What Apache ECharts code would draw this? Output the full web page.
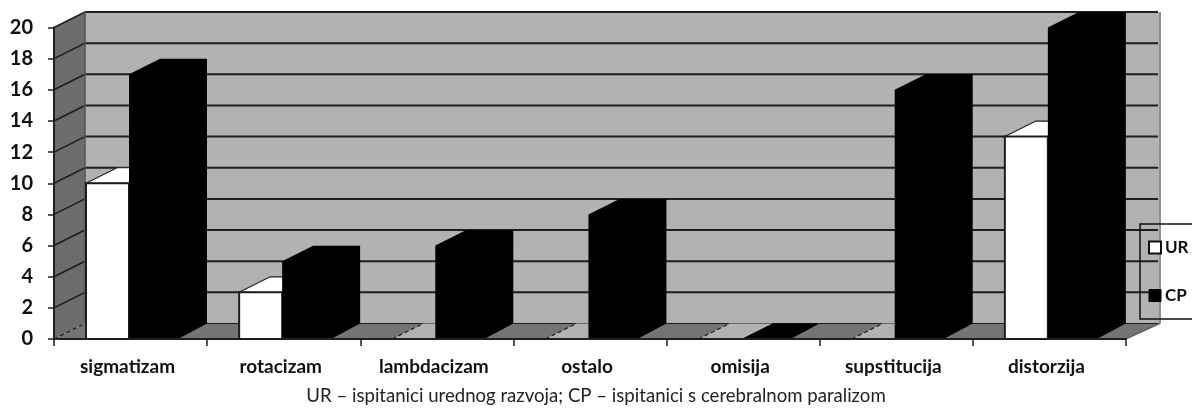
<!DOCTYPE html>
<html><head><meta charset="utf-8">
<style>html,body{margin:0;padding:0;background:#fff}#c{width:1192px;height:416px}</style>
<script src="https://cdn.jsdelivr.net/npm/echarts@6/dist/echarts.min.js"></script>
</head><body><div id="c"></div>
<script>
const categories = ['sigmatizam','rotacizam','lambdacizam','ostalo','omisija','supstitucija','distorzija'];
const urValues = [10,3,0,0,0,0,13];
const cpValues = [17,5,6,8,0,16,20];
const yTicks = [0,2,4,6,8,10,12,14,16,18,20];
const caption = 'UR – ispitanici urednog razvoja; CP – ispitanici s cerebralnom paralizom';

const DX = 31, DY = -15.5;
const FONT = 'Lato';
const DARK = '#1e1e1e';

function poly(pts, fill, stroke, lw, dash) {
  return {type:'polygon', shape:{points:pts}, style:{fill:fill||'none', stroke:stroke||'none', lineWidth:lw||0, lineDash:dash||null}};
}
function line(a, b, stroke, lw, dash) {
  return {type:'line', shape:{x1:a[0],y1:a[1],x2:b[0],y2:b[1]}, style:{stroke, lineWidth:lw, lineDash:dash||null}};
}
function renderWalls(params, api) {
  const band = api.size([1,0])[0];
  const n = categories.length;
  const left = api.coord([0,0])[0] - band/2;
  const right = left + band*n;
  const y0 = api.coord([0,0])[1];
  const yT = api.coord([0,yTicks[yTicks.length-1]])[1];
  const kids = [];
  kids.push(poly([[left+DX,yT+DY],[right+DX+3,yT+DY],[right+DX+3,y0+DY],[left+DX,y0+DY]],'#b2b2b2'));
  kids.push(line([right+DX+3,yT+DY],[right+DX+3,y0+DY],'#8e8e8e',2));
  kids.push(poly([[left,yT],[left+DX,yT+DY],[left+DX,y0+DY],[left,y0]],'#6c6c6c'));
  kids.push(poly([[left,y0],[left+DX,y0+DY],[right+DX+3,y0+DY],[right,y0]],'#747474'));
  yTicks.forEach(v => {
    const y = api.coord([0,v])[1];
    const dash = v === 0 ? [4,3] : null;
    kids.push(line([left,y],[left+DX,y+DY],DARK,v===0?1.2:1.6,dash));
    kids.push(line([left+DX,y+DY],[right+DX+1,y+DY],DARK,v===0?1:2));
  });
  kids.push(line([left+DX,yT+DY],[left+DX,y0+DY],'#555',1.5));
  kids.push(line([right,y0],[right+DX+3,y0+DY],'#555',1.2));
  return {type:'group', children:kids};
}
function renderUR(params, api) {
  const band = api.size([1,0])[0];
  const c = api.coord([api.value(0),api.value(1)]);
  const s = c[0]-band/2, y0 = api.coord([api.value(0),0])[1], y = c[1];
  const a = s+32, b = s+75;
  if (api.value(1) === 0) {
    return {type:'group', children:[
      poly([[a,y0],[a+DX,y0+DY],[b+DX,y0+DY],[b,y0]],'#b2b2b2'),
      line([a,y0],[a+DX,y0+DY],DARK,1.2,[4,3])
    ]};
  }
  return {type:'group', children:[
    poly([[a,y],[a+DX,y+DY],[b+DX,y+DY],[b,y]],'#ffffff',DARK,1.2),
    poly([[a,y],[b,y],[b,y0],[a,y0]],'#ffffff',DARK,2)
  ]};
}
function renderCP(params, api) {
  const band = api.size([1,0])[0];
  const c = api.coord([api.value(0),api.value(1)]);
  const s = c[0]-band/2, y0 = api.coord([api.value(0),0])[1], y = c[1];
  const a = s+75, b = s+124;
  return {type:'group', children:[
    poly([[a,y0],[a,y],[a+DX,y+DY],[b+DX-2,y+DY],[b+DX-2,y0+DY],[b,y0]],'#000000')
  ]};
}
const chart = echarts.init(document.getElementById('c'), null, {renderer:'canvas'});
chart.setOption({
  animation:false,
  backgroundColor:'#ffffff',
  textStyle:{fontFamily:FONT},
  title:{text:caption,left:'center',top:386,itemGap:0,padding:0,
    textStyle:{fontFamily:FONT,fontWeight:'normal',fontSize:18.6,color:'#222'}},
  grid:{left:54,right:66,top:27.5,bottom:77,containLabel:false},
  legend:{show:true,orient:'vertical',left:1140,top:224,
    padding:[15,70,15,8],itemGap:31,itemWidth:12,itemHeight:12,
    borderColor:'#111',borderWidth:1.5,
    textStyle:{fontFamily:FONT,fontWeight:'bold',fontSize:17,color:'#111',padding:[0,0,0,-1]},
    data:[
      {name:'UR',icon:'rect',itemStyle:{color:'#fff',borderColor:'#111',borderWidth:2}},
      {name:'CP',icon:'rect',itemStyle:{color:'#000',borderColor:'#000',borderWidth:1}}
    ]},
  xAxis:{type:'category',data:categories,z:6,boundaryGap:true,
    axisLine:{show:true,lineStyle:{color:DARK,width:2}},
    axisTick:{show:true,length:7,lineStyle:{color:DARK,width:1.5}},
    axisLabel:{interval:0,margin:18,padding:[0,6,0,0],fontFamily:FONT,fontWeight:'bold',fontSize:19,color:'#111'}},
  yAxis:{type:'value',min:0,max:20,interval:2,z:6,
    splitLine:{show:false},
    axisLine:{show:true,onZero:false,lineStyle:{color:DARK,width:2}},
    axisTick:{show:true,length:6,lineStyle:{color:DARK,width:1.5}},
    axisLabel:{margin:21,fontFamily:FONT,fontWeight:'bold',fontSize:20,color:'#111'}},
  series:[
    {type:'custom',name:'walls',silent:true,clip:false,z:1,renderItem:renderWalls,data:[[0,0]],encode:{x:0,y:1}},
    {type:'custom',name:'UR',silent:true,clip:false,z:2,renderItem:renderUR,itemStyle:{color:'#fff'},
      data:categories.map((c,i)=>[i,urValues[i]]),encode:{x:0,y:1}},
    {type:'custom',name:'CP',silent:true,clip:false,z:3,renderItem:renderCP,itemStyle:{color:'#000'},
      data:categories.map((c,i)=>[i,cpValues[i]]),encode:{x:0,y:1}}
  ]
});
</script></body></html>
